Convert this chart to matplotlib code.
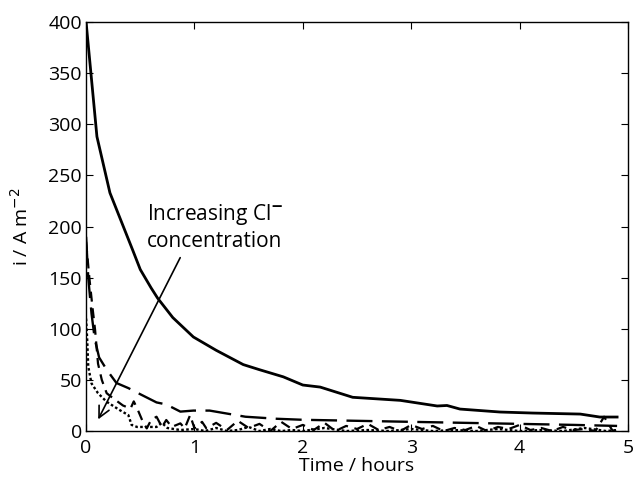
import numpy as np
import matplotlib.pyplot as plt

plt.rcParams['font.family'] = ['Open Sans', 'DejaVu Sans']
plt.rcParams['font.weight'] = 500

# solid curve (lowest Cl- concentration)
t_solid = [0, 0.1, 0.22, 0.43, 0.5, 0.6, 0.66, 0.8, 0.99, 1.2, 1.45, 1.6, 1.82,
           2.0, 2.16, 2.46, 2.9, 3.24, 3.33, 3.45, 3.82, 4.12, 4.56, 4.74, 4.9]
i_solid = [400, 288, 233, 177, 158, 140, 130, 111, 92, 79, 65, 60, 53,
           45, 43, 33, 30, 24.5, 25, 21.5, 18.6, 17.6, 16.6, 13.7, 13.7]

# long dashes
t_long = [0, 0.02, 0.05, 0.08, 0.12, 0.19, 0.28, 0.39, 0.5, 0.65, 0.74, 0.87,
          0.99, 1.14, 1.36, 1.47, 1.76, 2.0, 2.5, 3.0, 3.5, 4.0, 4.5, 4.9]
i_long = [190, 150, 115, 90, 72, 60, 47, 42, 36, 28, 26, 19,
          20, 20, 16, 14, 12, 11, 10, 9, 8, 7, 6, 5]

# medium dashes, noisy
t_med = [0, 0.03, 0.06, 0.083, 0.11, 0.145, 0.19, 0.25, 0.34, 0.41, 0.44, 0.48,
         0.53, 0.56, 0.6, 0.65, 0.7, 0.74, 0.79, 0.87, 0.91, 0.96, 1.0, 1.07,
         1.11, 1.2, 1.3, 1.4, 1.5, 1.6, 1.7, 1.8, 1.9, 2.0, 2.1, 2.2, 2.3,
         2.4, 2.5, 2.6, 2.7, 2.8, 2.9, 3.0, 3.1, 3.2, 3.3, 3.4, 3.5, 3.6,
         3.7, 3.8, 3.9, 4.0, 4.1, 4.2, 4.3, 4.4, 4.5, 4.6, 4.7, 4.78, 4.86, 4.9]
i_med = [185, 150, 120, 99, 66, 50, 37, 32, 25, 22, 29, 20,
         7.5, 2.6, 10.8, 14, 4, 10.8, 4, 7.5, 2.6, 15.6, 2.6, 9,
         2.6, 8, 1, 10, 3, 7, 0, 9, 2, 6, 1, 8, 0,
         5, 2, 7, 1, 4, 0, 6, 2, 5, 0, 3, 1, 5,
         0, 4, 2, 6, 1, 3, 0, 4, 1, 2, 0, 14, 0, 1]

# dotted (highest Cl- concentration)
t_dot = [0, 0.01, 0.02, 0.05, 0.11, 0.19, 0.31, 0.39, 0.42, 0.47, 0.65, 0.7,
         0.75, 0.87, 1.0, 1.1, 1.2, 1.3, 1.4, 1.5, 1.6, 1.7, 1.8, 1.9, 2.0,
         2.2, 2.4, 2.6, 2.8, 3.0, 3.2, 3.4, 3.6, 3.8, 4.0, 4.2, 4.4, 4.6,
         4.8, 4.9]
i_dot = [110, 90, 63, 46.6, 37, 28.6, 20.5, 15.6, 6, 4, 4, 8,
         3, 1, 2, 0, 3, 0, 1, 4, 0, 2, 0, 1, 0,
         3, 0, 1, 0, 2, 0, 1, 0, 2, 0, 1, 0, 3,
         0, 1]

fig = plt.figure(figsize=(6.33, 4.8), dpi=100)
ax = fig.add_axes([0.136, 0.102, 0.856, 0.852])

ax.plot(t_solid, i_solid, color='black', lw=2.0)
ax.plot(t_long, i_long, color='black', lw=1.7, dashes=(11, 4))
ax.plot(t_med, i_med, color='black', lw=1.6, dashes=(4.5, 3))
ax.plot(t_dot, i_dot, color='black', lw=1.7, dashes=(1.1, 1.0))

ax.annotate('', xy=(0.1, 9), xytext=(0.88, 172),
            arrowprops=dict(arrowstyle='->', color='black', lw=1.2,
                            mutation_scale=20))
ax.text(0.56, 200, 'Increasing Cl$^{\\mathbf{-}}$\nconcentration', fontsize=15,
        ha='left', va='center', linespacing=1.25)

ax.set_xlim(0, 5)
ax.set_ylim(0, 400)
ax.set_xticks([0, 1, 2, 3, 4, 5])
ax.set_yticks(np.arange(0, 401, 50))
ax.tick_params(direction='in', top=True, right=True, labelsize=14, length=5, pad=3)
ax.tick_params(axis='x', pad=6)
ax.set_xlabel('Time / hours', fontsize=14, labelpad=0)
ax.set_ylabel('i / A m$^{-2}$', fontsize=14, labelpad=12)
for s in ax.spines.values():
    s.set_linewidth(1.0)

plt.savefig('out.png', dpi=100)
